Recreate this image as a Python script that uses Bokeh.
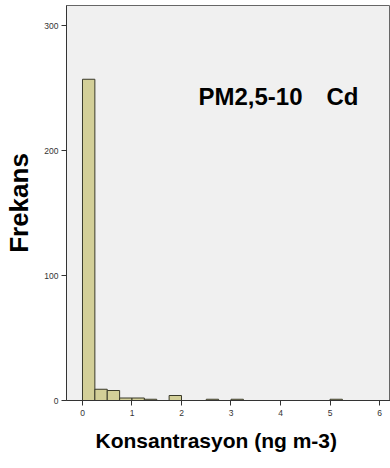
from bokeh.plotting import figure
from bokeh.models import Range1d, Label, FixedTicker, Title
from bokeh.embed import file_html
from bokeh.resources import INLINE

# Data (histogram of concentrations, bin width 0.25)
bin_left = [0.0, 0.25, 0.5, 0.75, 1.0, 1.25, 1.75, 2.5, 3.0, 5.0]
bin_right = [0.25, 0.5, 0.75, 1.0, 1.25, 1.5, 2.0, 2.75, 3.25, 5.25]
counts = [257, 9, 8, 2, 2, 1, 4, 1, 1, 1]
x_ticks = [0, 1, 2, 3, 4, 5, 6]
y_ticks = [0, 100, 200, 300]

p = figure(width=390, height=468, output_backend="svg", toolbar_location=None,
           x_range=Range1d(-0.323, 6.222), y_range=Range1d(0, 316),
           min_border_left=66, min_border_right=0, min_border_top=5, min_border_bottom=68)

p.background_fill_color = "#f0f0f0"
p.border_fill_color = "white"
p.outline_line_color = "#666666"
p.outline_line_width = 1
p.xgrid.visible = False
p.ygrid.visible = False

p.quad(left=bin_left, right=bin_right, bottom=0, top=counts,
       fill_color="#d3cf98", line_color="#3a3a2a", line_width=1)

font = "Liberation Sans"
p.xaxis.ticker = FixedTicker(ticks=x_ticks)
p.yaxis.ticker = FixedTicker(ticks=y_ticks)
for ax in (p.xaxis, p.yaxis):
    ax.minor_tick_line_color = None
    ax.major_tick_out = 5
    ax.major_tick_in = 0
    ax.major_label_text_font = font
    ax.major_label_text_font_size = "8.5px"
    ax.major_label_text_color = "#333333"
    ax.axis_label_text_font = font
    ax.axis_label_text_font_style = "bold"
    ax.axis_label_text_color = "black"
    ax.axis_line_color = "#333333"
    ax.major_tick_line_color = "#333333"

p.xaxis.major_label_standoff = 4

p.yaxis.axis_label = "Frekans"
p.yaxis.axis_label_text_font_size = "26px"
p.yaxis.major_label_standoff = 3
p.yaxis.axis_label_standoff = 7

# x-axis title, placed as in the original (slightly left of the frame centre)
p.add_layout(Title(text="Konsantrasyon (ng m-3)", text_font=font, align="left", offset=29,
                   text_font_style="bold", text_font_size="21px", standoff=17,
                   text_color="black"), "below")

for x, txt in [(2.343, "PM2,5-10"), (4.93, "Cd")]:
    p.add_layout(Label(x=x, y=243.2, text=txt, text_font=font,
                       text_font_style="bold", text_font_size="24px",
                       text_color="black", text_baseline="alphabetic"))

open("out.html", "w").write(file_html(p, INLINE))
